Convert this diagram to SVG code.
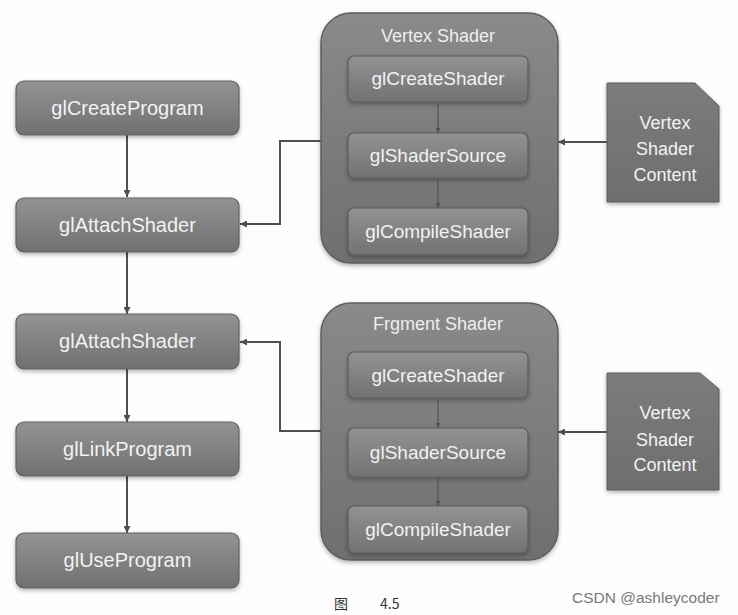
<svg xmlns="http://www.w3.org/2000/svg" width="738" height="615" viewBox="0 0 738 615">
<defs>
<linearGradient id="gBox" x1="0" y1="0" x2="0" y2="1">
<stop offset="0" stop-color="#939393"/>
<stop offset="1" stop-color="#707070"/>
</linearGradient>
<linearGradient id="gCont" x1="0" y1="0" x2="0" y2="1">
<stop offset="0" stop-color="#8a8a8a"/>
<stop offset="1" stop-color="#6f6f6f"/>
</linearGradient>
<linearGradient id="gInner" x1="0" y1="0" x2="0" y2="1">
<stop offset="0" stop-color="#929292"/>
<stop offset="1" stop-color="#727272"/>
</linearGradient>
<linearGradient id="gDoc" x1="0" y1="0" x2="0" y2="1">
<stop offset="0" stop-color="#7c7c7c"/>
<stop offset="1" stop-color="#6e6e6e"/>
</linearGradient>
<filter id="sh" x="-10%" y="-10%" width="120%" height="130%">
<feDropShadow dx="0" dy="2" stdDeviation="2" flood-color="#000" flood-opacity="0.3"/>
</filter>
<marker id="ah" viewBox="0 0 10 10" refX="10" refY="5" markerWidth="5" markerHeight="5" orient="auto" markerUnits="userSpaceOnUse">
<path d="M0,0 L10,5 L0,10 z" fill="#4f4f4f"/>
</marker>
<marker id="ah2" viewBox="0 0 10 10" refX="10" refY="5" markerWidth="7" markerHeight="7" orient="auto" markerUnits="userSpaceOnUse">
<path d="M0,0 L10,5 L0,10 z" fill="#4f4f4f"/>
</marker>
</defs>
<style>
.box{fill:url(#gBox);stroke:#626262;stroke-width:1.2;filter:url(#sh)}
.cont{fill:url(#gCont);stroke:#5e5e5e;stroke-width:1.5;filter:url(#sh)}
.inner{fill:url(#gInner);stroke:#5c5c5c;stroke-width:1.2;filter:url(#sh)}
.doc{fill:url(#gDoc);stroke:#5e5e5e;stroke-width:1;filter:url(#sh)}
.t{font-family:"Liberation Sans",Arial,sans-serif;fill:#f2f2f2;text-anchor:middle}
.big{font-size:20px}
.mid{font-size:19px}
.ttl{font-size:18px;fill:#eeeeee}
.dt{font-size:18px}
.c{fill:none;stroke:#505050;stroke-width:2}
.ci{fill:none;stroke:#555555;stroke-width:1.3}
</style>
<rect width="738" height="615" fill="#fdfdfd"/>

<g id="connectors">
<line class="c" x1="127" y1="135" x2="127" y2="197" marker-end="url(#ah2)"/>
<line class="c" x1="127" y1="252" x2="127" y2="314" marker-end="url(#ah2)"/>
<line class="c" x1="127" y1="369" x2="127" y2="422" marker-end="url(#ah2)"/>
<line class="c" x1="127" y1="476" x2="127" y2="533" marker-end="url(#ah2)"/>
<polyline class="c" points="321,141 280,141 280,224 240,224" marker-end="url(#ah2)"/>
<polyline class="c" points="321,431 280,431 280,342 240,342" marker-end="url(#ah2)"/>
<line class="c" x1="607" y1="142" x2="558" y2="142" marker-end="url(#ah2)"/>
<line class="c" x1="607" y1="432" x2="558" y2="432" marker-end="url(#ah2)"/>
</g>

<g id="glCreateProgram"><rect class="box" x="16" y="81" width="223" height="54" rx="8"/><text class="t big" x="127.5" y="115">glCreateProgram</text></g>
<g id="glAttachShader1"><rect class="box" x="16" y="198" width="223" height="54" rx="8"/><text class="t big" x="127.5" y="232">glAttachShader</text></g>
<g id="glAttachShader2"><rect class="box" x="16" y="314" width="223" height="55" rx="8"/><text class="t big" x="127.5" y="348">glAttachShader</text></g>
<g id="glLinkProgram"><rect class="box" x="16" y="422" width="223" height="54" rx="8"/><text class="t big" x="127.5" y="456">glLinkProgram</text></g>
<g id="glUseProgram"><rect class="box" x="16" y="533" width="223" height="55" rx="8"/><text class="t big" x="127.5" y="567">glUseProgram</text></g>

<g id="vertexShader">
<rect class="cont" x="321" y="13" width="237" height="250" rx="30"/>
<text class="t ttl" x="438" y="42">Vertex Shader</text>
<rect class="inner" x="348" y="56" width="180" height="46" rx="6"/>
<text class="t mid" x="438" y="85">glCreateShader</text>
<rect class="inner" x="348" y="133" width="180" height="45" rx="6"/>
<text class="t mid" x="438" y="162">glShaderSource</text>
<rect class="inner" x="348" y="208" width="180" height="47" rx="6"/>
<text class="t mid" x="438" y="238">glCompileShader</text>
<line class="ci" x1="438" y1="102" x2="438" y2="133" marker-end="url(#ah)"/>
<line class="ci" x1="438" y1="178" x2="438" y2="208" marker-end="url(#ah)"/>
</g>

<g id="fragmentShader">
<rect class="cont" x="321" y="303" width="237" height="257" rx="30"/>
<text class="t ttl" x="438" y="330">Frgment Shader</text>
<rect class="inner" x="348" y="352" width="180" height="46" rx="6"/>
<text class="t mid" x="438" y="382">glCreateShader</text>
<rect class="inner" x="348" y="428" width="180" height="49" rx="6"/>
<text class="t mid" x="438" y="459">glShaderSource</text>
<rect class="inner" x="348" y="506" width="180" height="47" rx="6"/>
<text class="t mid" x="438" y="536">glCompileShader</text>
<line class="ci" x1="438" y1="398" x2="438" y2="428" marker-end="url(#ah)"/>
<line class="ci" x1="438" y1="477" x2="438" y2="506" marker-end="url(#ah)"/>
</g>

<g id="vertexContent1">
<path class="doc" d="M607,83 L695,83 L719,106 L719,202 L607,202 Z"/>
<text class="t dt" x="665" y="129">Vertex</text>
<text class="t dt" x="665" y="155">Shader</text>
<text class="t dt" x="665" y="181">Content</text>
</g>

<g id="vertexContent2">
<path class="doc" d="M607,373 L700,373 L719,389 L719,490 L607,490 Z"/>
<text class="t dt" x="665" y="419">Vertex</text>
<text class="t dt" x="665" y="446">Shader</text>
<text class="t dt" x="665" y="471">Content</text>
</g>

<text x="572" y="603" font-family="'Liberation Sans',Arial,sans-serif" font-size="15.5" fill="#7a7a7a">CSDN @ashleycoder</text>
<text y="609" font-family="'Noto Sans CJK SC',sans-serif" font-size="14" fill="#333"><tspan x="334">图</tspan><tspan x="380">4.5</tspan></text>
</svg>
